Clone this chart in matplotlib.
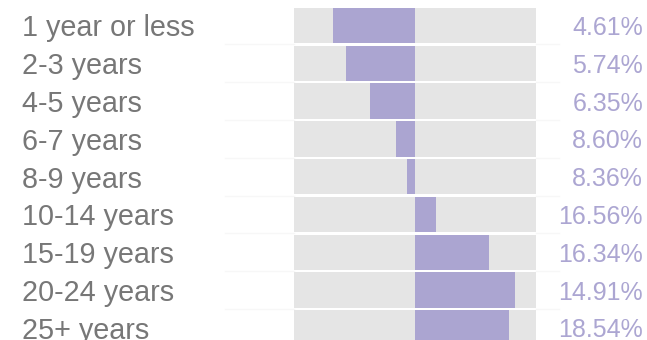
import matplotlib
matplotlib.use("Agg")
import matplotlib.pyplot as plt
from matplotlib.transforms import blended_transform_factory

plt.rcParams['font.family'] = ['Liberation Sans', 'DejaVu Sans']

categories = ["1 year or less", "2-3 years", "4-5 years", "6-7 years", "8-9 years",
              "10-14 years", "15-19 years", "20-24 years", "25+ years"]
shares = [4.61, 5.74, 6.35, 8.60, 8.36, 16.56, 16.34, 14.91, 18.54]
# relative index shown by the diverging bars (-1 .. 1 around the centre)
index = [-0.68, -0.57, -0.37, -0.16, -0.07, 0.17, 0.61, 0.83, 0.78]

W, H = 647, 340
fig = plt.figure(figsize=(W / 100, H / 100), dpi=100)
fig.patch.set_facecolor("white")

pitch = 37.8
first_center = 25.5
ax = fig.add_axes([294 / W, 0, (536 - 294) / W, 1])
ax.set_xlim(-1, 1)
ax.set_ylim((H - first_center) / pitch, -first_center / pitch)
ax.axis("off")

rows = list(range(len(categories)))
bar_h = 0.935
bar_color = "#aba5d1"
ax.barh(rows, [2] * len(rows), left=-1, height=bar_h, color="#e5e5e5", zorder=1)
ax.barh(rows, index, height=bar_h, color=bar_color, zorder=2)

# faint row separators outside the track
tr = blended_transform_factory(fig.transFigure, ax.transData)
for r in rows[:-1]:
    y = r + 0.5
    ax.plot([225 / W, 294 / W], [y, y], transform=tr, color="#f7f7f7", lw=1,
            clip_on=False, zorder=0)
    ax.plot([536 / W, 559 / W], [y, y], transform=tr, color="#f7f7f7", lw=1,
            clip_on=False, zorder=0)

for r, (cat, s) in enumerate(zip(categories, shares)):
    ax.text(22 / W, r, cat, transform=tr, ha="left", va="center_baseline",
            fontsize=20.7, color="#777777", clip_on=False)
    ax.text(643 / W, r, f"{s:.2f}%", transform=tr, ha="right", va="center_baseline",
            fontsize=18, color="#aca6d2", clip_on=False)

fig.savefig("out.png", dpi=100, facecolor="white")
